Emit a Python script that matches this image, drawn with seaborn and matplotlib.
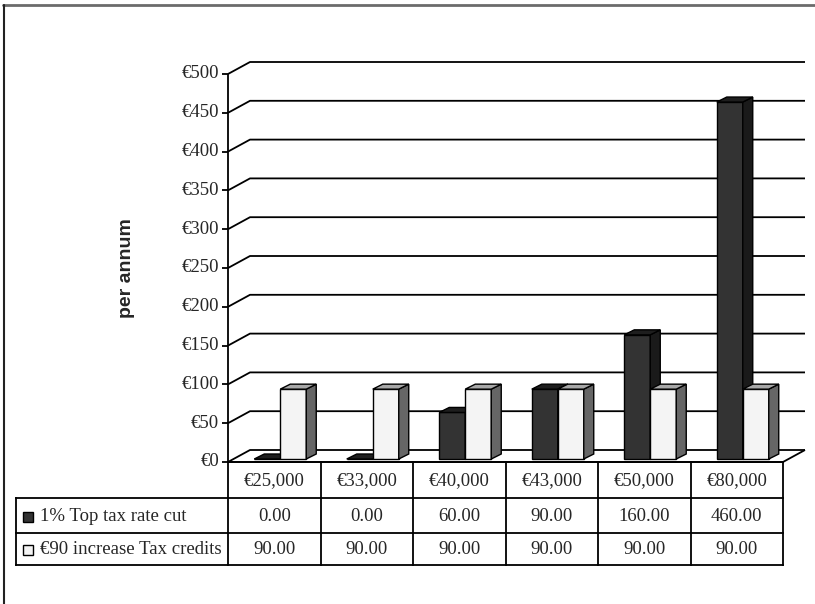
import matplotlib
matplotlib.use("Agg")
import matplotlib.pyplot as plt
from matplotlib.patches import Polygon, Rectangle
from matplotlib.lines import Line2D
import seaborn as sns
import pandas as pd

incomes = ["€25,000", "€33,000", "€40,000", "€43,000", "€50,000", "€80,000"]
top_rate_cut = [0.0, 0.0, 60.0, 90.0, 160.0, 460.0]
tax_credits = [90.0, 90.0, 90.0, 90.0, 90.0, 90.0]
series_names = ["1% Top tax rate cut", "€90 increase Tax credits"]
y_ticks = [0, 50, 100, 150, 200, 250, 300, 350, 400, 450, 500]

face_colors = ["#333333", "#f4f4f4"]
side_colors = ["#1a1a1a", "#666666"]
top_colors = ["#1e1e1e", "#a8a8a8"]

df = pd.DataFrame({
    "income": incomes * 2,
    "series": [series_names[0]] * len(incomes) + [series_names[1]] * len(incomes),
    "value": top_rate_cut + tax_credits,
})

sns.set_style("white")
plt.rcParams["font.family"] = ["Liberation Serif", "DejaVu Serif"]

W, H = 815, 604
FS = 13.5
fig = plt.figure(figsize=(W / 100, H / 100), dpi=100)

# front plane of the plot in pixels
X0, X1 = 228, 783
Y0, Y1 = 462, 74
ax = fig.add_axes([X0 / W, 1 - Y0 / H, (X1 - X0) / W, (Y0 - Y1) / H])

# data units per pixel
px_x = len(incomes) / (X1 - X0)
px_y = 500 / (Y0 - Y1)

# back wall offset and bar depth (pixels)
WALL_DX, WALL_DY = 22, 12
BAR_DX, BAR_DY = 10, 5
SHIFT_DX, SHIFT_DY = 6, 3

line_kw = dict(color="black", lw=1.3, clip_on=False, solid_capstyle="butt")

# bars
sns.barplot(data=df, x="income", y="value", hue="series", order=incomes,
            hue_order=series_names, palette=face_colors, width=0.562,
            dodge=True, edgecolor="black", linewidth=1.0, legend=False,
            saturation=1, ax=ax)
ax.set_xlim(-0.5, len(incomes) - 0.5)
ax.set_ylim(0, 500)
ax.axis("off")

# gridlines running along the left wall and back wall
xl = -0.5
xr = len(incomes) - 0.5
xr_back = xr + WALL_DX * px_x
for v in y_ticks:
    ax.add_line(Line2D([xl, xl + WALL_DX * px_x, xr_back],
                       [v, v + WALL_DY * px_y, v + WALL_DY * px_y],
                       zorder=1, **line_kw))
    ax.add_line(Line2D([xl - 6 * px_x, xl], [v, v], zorder=2, **line_kw))
    ax.text(xl - 9 * px_x, v, f"€{v}", ha="right", va="center", fontsize=FS)

# floor edges and vertical axis
ax.add_line(Line2D([xr, xr_back], [0, WALL_DY * px_y], zorder=1, **line_kw))
ax.add_line(Line2D([xl, xr], [0, 0], zorder=1, **line_kw))
ax.add_line(Line2D([xl, xl], [0, 500], zorder=2, **line_kw))

# give each bar a side and a top face
n = len(incomes)
for k, patch in enumerate(list(ax.patches)):
    h = k // n
    i = k % n
    x0 = patch.get_x() + SHIFT_DX * px_x
    w = patch.get_width()
    y0 = patch.get_y() + SHIFT_DY * px_y
    ht = patch.get_height()
    patch.set_x(x0)
    patch.set_y(y0)
    z = 3 + i * 0.1 + h * 0.05
    patch.set_zorder(z)
    patch.set_clip_on(False)
    dx, dy = BAR_DX * px_x, BAR_DY * px_y
    x1 = x0 + w
    y1 = y0 + ht
    ax.add_patch(Polygon([(x1, y0), (x1 + dx, y0 + dy), (x1 + dx, y1 + dy), (x1, y1)],
                         closed=True, facecolor=side_colors[h], edgecolor="black",
                         lw=1.0, zorder=z, clip_on=False))
    ax.add_patch(Polygon([(x0, y1), (x1, y1), (x1 + dx, y1 + dy), (x0 + dx, y1 + dy)],
                         closed=True, facecolor=top_colors[h], edgecolor="black",
                         lw=1.0, zorder=z, clip_on=False))

# y axis title
fig.text(127 / W, 1 - 268 / H, "per annum", rotation=90, ha="center", va="center",
         fontsize=14, fontweight="bold", family=["Liberation Sans", "DejaVu Sans"])

# data table below the plot
def fx(px):
    return px / W

def fy(py):
    return 1 - py / H

col_w = (X1 - X0) / n
rows_y = [462, 498, 533, 565]
LBL_X = 16
tline = dict(color="black", lw=1.3, solid_capstyle="projecting")

fig.add_artist(Line2D([fx(X0), fx(X1)], [fy(rows_y[0])] * 2, **tline))
for yy in rows_y[1:]:
    fig.add_artist(Line2D([fx(LBL_X), fx(X1)], [fy(yy)] * 2, **tline))
for c in range(n + 1):
    xx = X0 + c * col_w
    fig.add_artist(Line2D([fx(xx)] * 2, [fy(rows_y[0]), fy(rows_y[-1])], **tline))
fig.add_artist(Line2D([fx(LBL_X)] * 2, [fy(rows_y[1]), fy(rows_y[-1])], **tline))

for c, lab in enumerate(incomes):
    cx = X0 + (c + 0.5) * col_w
    fig.text(fx(cx), fy((rows_y[0] + rows_y[1]) / 2 + 1), lab, ha="center",
             va="center", fontsize=FS)

for r, vals in enumerate([top_rate_cut, tax_credits]):
    cy = (rows_y[r + 1] + rows_y[r + 2]) / 2 + 1
    for c, v in enumerate(vals):
        cx = X0 + (c + 0.5) * col_w
        fig.text(fx(cx), fy(cy), f"{v:.2f}", ha="center", va="center", fontsize=FS)
    fig.add_artist(Rectangle((fx(23), fy(cy + 5)), 10 / W, 10 / H,
                             facecolor=face_colors[r], edgecolor="black", lw=1.0,
                             transform=fig.transFigure))
    fig.text(fx(40), fy(cy), series_names[r], ha="left", va="center", fontsize=FS)

# outer frame edges
fig.add_artist(Line2D([fx(3), fx(815)], [fy(5)] * 2, color="#6b6b6b", lw=2))
fig.add_artist(Line2D([fx(4)] * 2, [fy(5), fy(604)], color="#222222", lw=1.5))

fig.savefig("out.png", dpi=100)
